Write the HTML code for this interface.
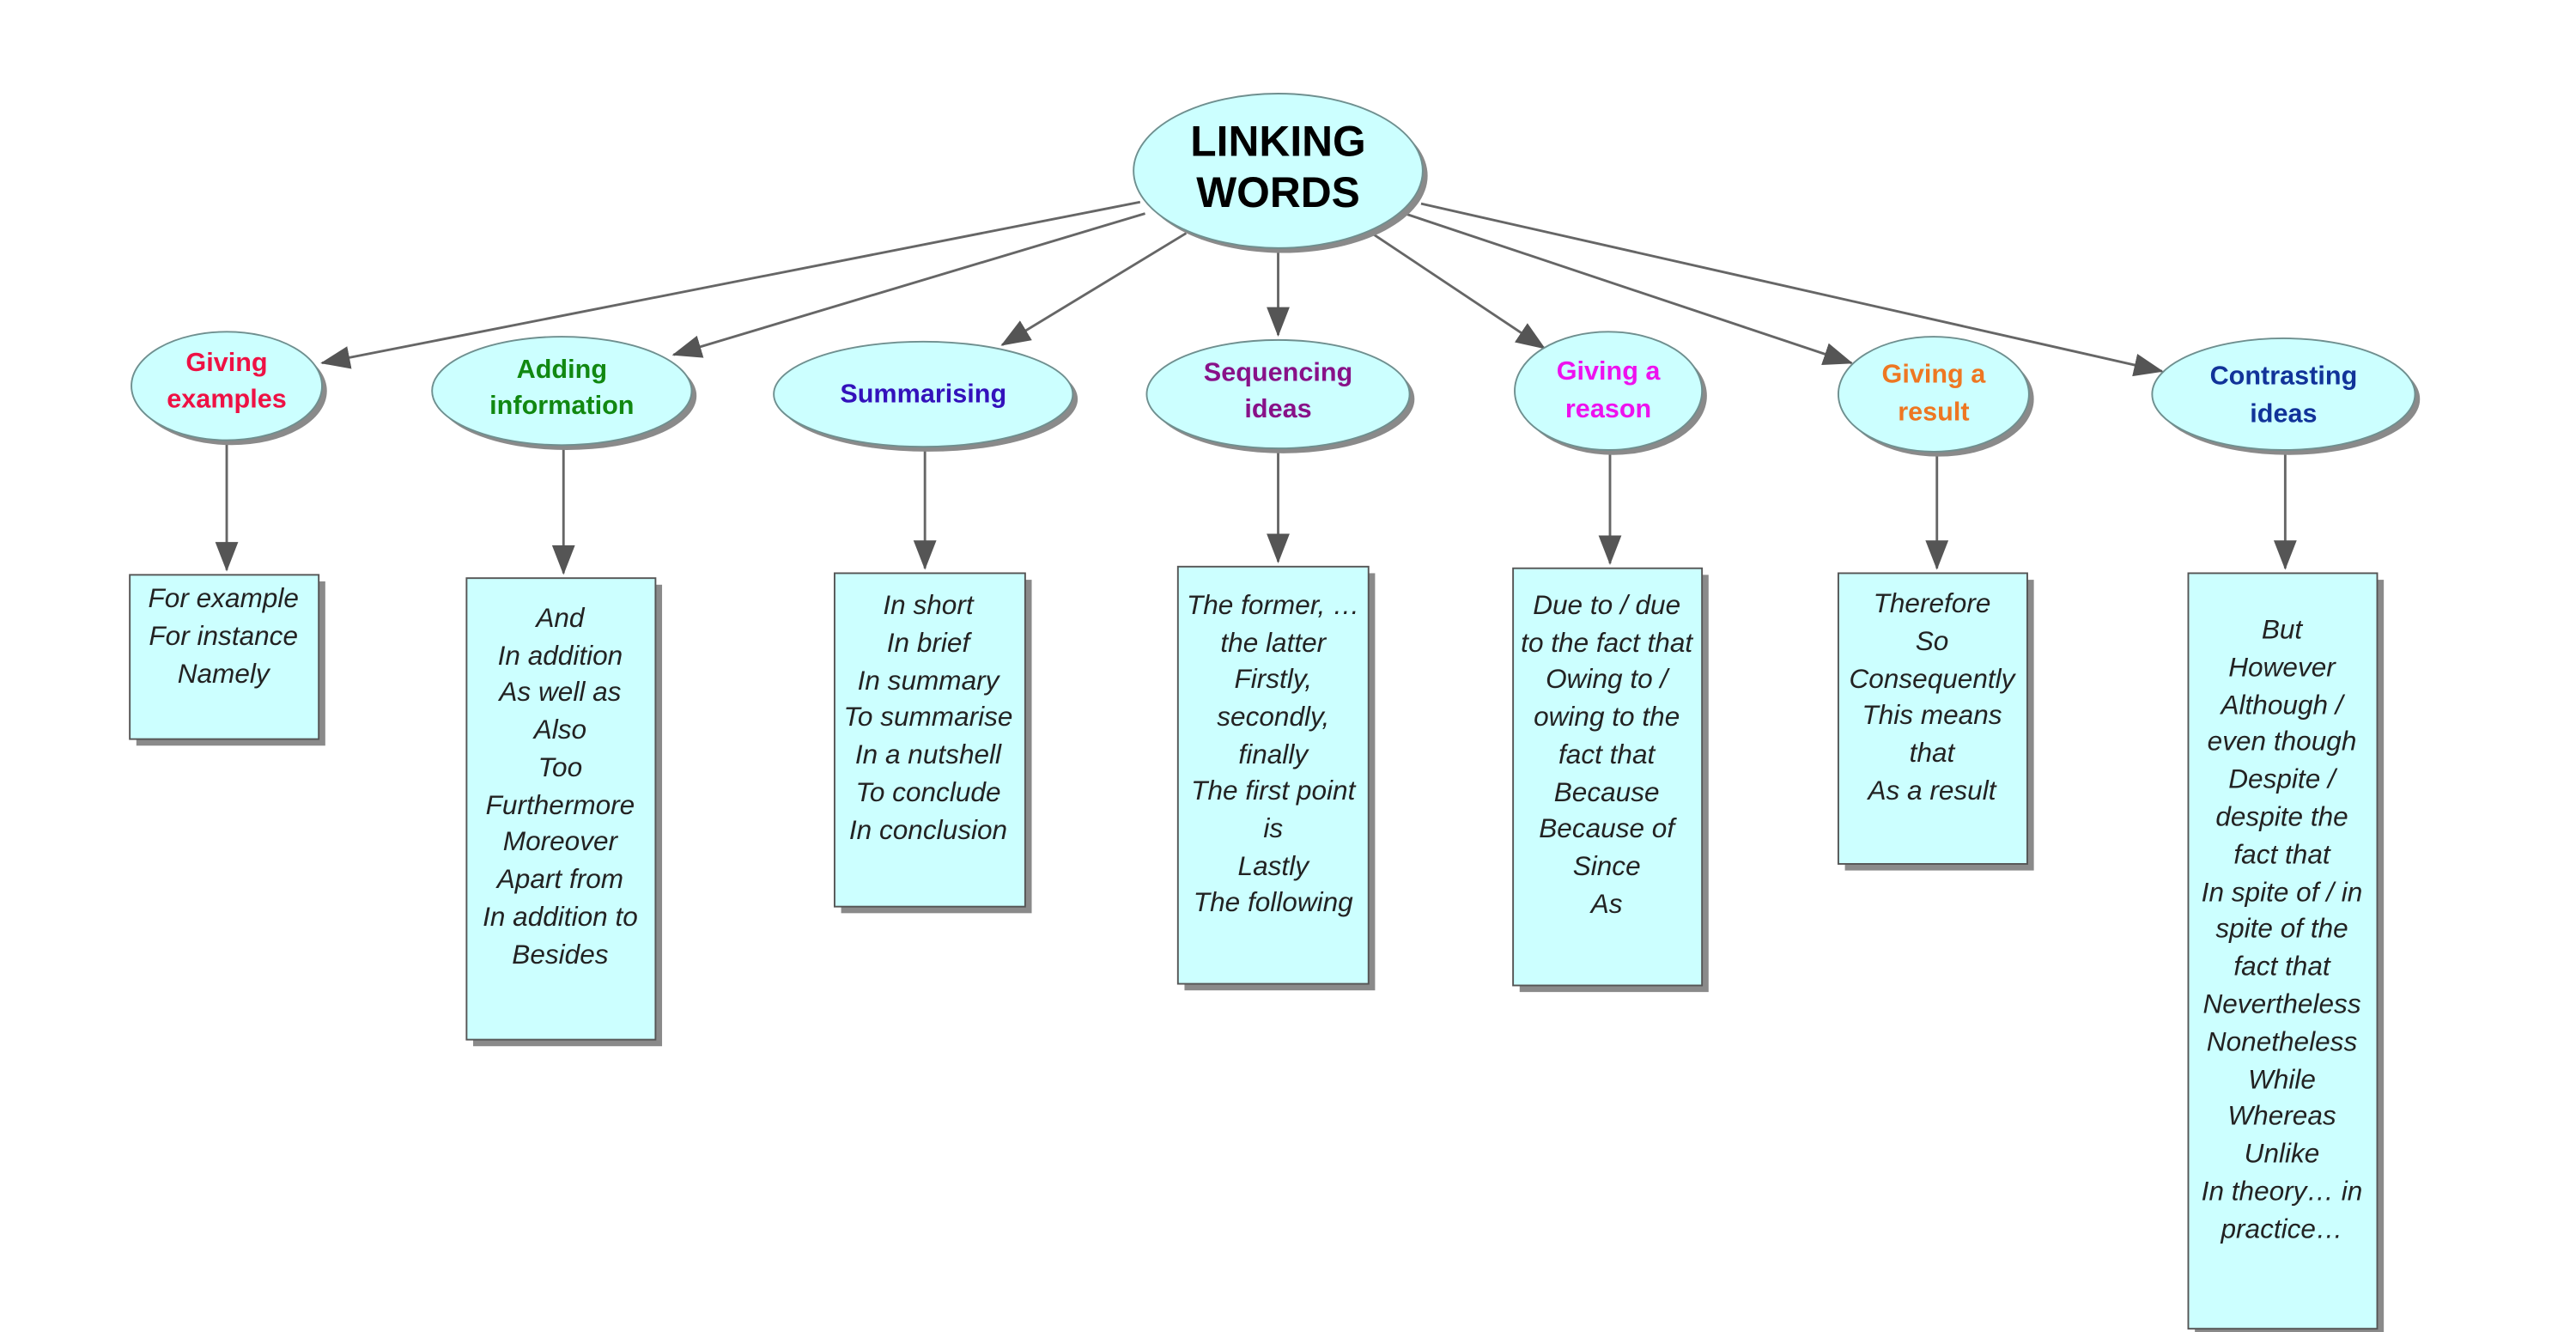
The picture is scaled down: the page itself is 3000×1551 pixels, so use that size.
<!DOCTYPE html>
<html><head><meta charset="utf-8"><style>
html,body{margin:0;padding:0;background:#fff;}
svg{display:block;}
text{font-family:"Liberation Sans",sans-serif;}
.b{font-style:italic;font-size:16.5px;fill:#222;text-anchor:middle;}
.l{font-weight:bold;font-size:16px;text-anchor:middle;}
</style></head><body>
<svg width="3000" height="1551" viewBox="0 0 1568 811" preserveAspectRatio="none" xmlns="http://www.w3.org/2000/svg">
<defs>
<marker id="a" markerWidth="10" markerHeight="10" refX="9" refY="5" orient="auto" markerUnits="userSpaceOnUse" viewBox="0 0 10 10">
<path d="M0,0 L10,5 L0,10 z" fill="#555"/></marker>
<marker id="a2" markerWidth="18" markerHeight="18" refX="17" refY="9" orient="auto" markerUnits="userSpaceOnUse" viewBox="0 0 18 18">
<path d="M0,2 L18,9 L0,16 z" fill="#555"/></marker>
</defs>
<g stroke="#666" stroke-width="1.5" fill="none" marker-end="url(#a2)">
<line x1="694" y1="123" x2="196" y2="221"/>
<line x1="697" y1="130" x2="410" y2="216"/>
<line x1="722" y1="142" x2="610" y2="210"/>
<line x1="778" y1="152" x2="778" y2="204"/>
<line x1="835" y1="142" x2="940" y2="212"/>
<line x1="855" y1="130" x2="1127" y2="221"/>
<line x1="865" y1="124" x2="1316" y2="226"/>
<line x1="138" y1="268" x2="138" y2="347"/>
<line x1="343" y1="271" x2="343" y2="349"/>
<line x1="563" y1="272" x2="563" y2="346"/>
<line x1="778" y1="275" x2="778" y2="342"/>
<line x1="980" y1="273" x2="980" y2="343"/>
<line x1="1179" y1="275" x2="1179" y2="346"/>
<line x1="1391" y1="275" x2="1391" y2="346"/>
</g>
<!-- ellipses -->
<g fill="#8a8a8a">
<ellipse cx="781" cy="107" rx="88" ry="47"/>
<ellipse cx="141" cy="238" rx="58" ry="33"/>
<ellipse cx="345" cy="241" rx="79" ry="33"/>
<ellipse cx="565" cy="243" rx="91" ry="32"/>
<ellipse cx="781" cy="243" rx="80" ry="33"/>
<ellipse cx="982" cy="241" rx="57" ry="36"/>
<ellipse cx="1180" cy="243" rx="58" ry="35"/>
<ellipse cx="1393" cy="243" rx="80" ry="34"/>
</g>
<g fill="#ccffff" stroke="#6f8f8f" stroke-width="1">
<ellipse cx="778" cy="104" rx="88" ry="47"/>
<ellipse cx="138" cy="235" rx="58" ry="33"/>
<ellipse cx="342" cy="238" rx="79" ry="33"/>
<ellipse cx="562" cy="240" rx="91" ry="32"/>
<ellipse cx="778" cy="240" rx="80" ry="33"/>
<ellipse cx="979" cy="238" rx="57" ry="36"/>
<ellipse cx="1177" cy="240" rx="58" ry="35"/>
<ellipse cx="1390" cy="240" rx="80" ry="34"/>
</g>
<text x="778" y="95" font-size="26" font-weight="bold" text-anchor="middle">LINKING</text>
<text x="778" y="126" font-size="26" font-weight="bold" text-anchor="middle">WORDS</text>
<text class="l" x="138" y="226" fill="#ee1144">Giving</text>
<text class="l" x="138" y="248" fill="#ee1144">examples</text>
<text class="l" x="342" y="230" fill="#118811">Adding</text>
<text class="l" x="342" y="252" fill="#118811">information</text>
<text class="l" x="562" y="245" fill="#3311bb">Summarising</text>
<text class="l" x="778" y="232" fill="#881188">Sequencing</text>
<text class="l" x="778" y="254" fill="#881188">ideas</text>
<text class="l" x="979" y="231" fill="#ee11ee">Giving a</text>
<text class="l" x="979" y="254" fill="#ee11ee">reason</text>
<text class="l" x="1177" y="233" fill="#ee7722">Giving a</text>
<text class="l" x="1177" y="256" fill="#ee7722">result</text>
<text class="l" x="1390" y="234" fill="#113399">Contrasting</text>
<text class="l" x="1390" y="257" fill="#113399">ideas</text>
<!-- boxes -->
<g fill="#8a8a8a">
<rect x="83" y="354" width="115" height="100"/>
<rect x="288" y="356" width="115" height="281"/>
<rect x="512" y="353" width="116" height="203"/>
<rect x="721" y="349" width="116" height="254"/>
<rect x="925" y="350" width="115" height="254"/>
<rect x="1123" y="353" width="115" height="177"/>
<rect x="1336" y="353" width="115" height="460"/>
</g>
<g fill="#ccffff" stroke="#555" stroke-width="1">
<rect x="79" y="350" width="115" height="100"/>
<rect x="284" y="352" width="115" height="281"/>
<rect x="508" y="349" width="116" height="203"/>
<rect x="717" y="345" width="116" height="254"/>
<rect x="921" y="346" width="115" height="254"/>
<rect x="1119" y="349" width="115" height="177"/>
<rect x="1332" y="349" width="115" height="460"/>
</g>
<g class="b" dominant-baseline="central">
<text x="136" y="364" class="b">For example</text>
<text x="136" y="387" class="b">For instance</text>
<text x="136" y="410" class="b">Namely</text>

<text x="341" y="376" class="b">And</text>
<text x="341" y="399" class="b">In addition</text>
<text x="341" y="421" class="b">As well as</text>
<text x="341" y="444" class="b">Also</text>
<text x="341" y="467" class="b">Too</text>
<text x="341" y="490" class="b">Furthermore</text>
<text x="341" y="512" class="b">Moreover</text>
<text x="341" y="535" class="b">Apart from</text>
<text x="341" y="558" class="b">In addition to</text>
<text x="341" y="581" class="b">Besides</text>

<text x="565" y="368" class="b">In short</text>
<text x="565" y="391" class="b">In brief</text>
<text x="565" y="414" class="b">In summary</text>
<text x="565" y="436" class="b">To summarise</text>
<text x="565" y="459" class="b">In a nutshell</text>
<text x="565" y="482" class="b">To conclude</text>
<text x="565" y="505" class="b">In conclusion</text>

<text x="775" y="368" class="b">The former, …</text>
<text x="775" y="391" class="b">the latter</text>
<text x="775" y="413" class="b">Firstly,</text>
<text x="775" y="436" class="b">secondly,</text>
<text x="775" y="459" class="b">finally</text>
<text x="775" y="481" class="b">The first point</text>
<text x="775" y="504" class="b">is</text>
<text x="775" y="527" class="b">Lastly</text>
<text x="775" y="549" class="b">The following</text>

<text x="978" y="368" class="b">Due to / due</text>
<text x="978" y="391" class="b">to the fact that</text>
<text x="978" y="413" class="b">Owing to /</text>
<text x="978" y="436" class="b">owing to the</text>
<text x="978" y="459" class="b">fact that</text>
<text x="978" y="482" class="b">Because</text>
<text x="978" y="504" class="b">Because of</text>
<text x="978" y="527" class="b">Since</text>
<text x="978" y="550" class="b">As</text>

<text x="1176" y="367" class="b">Therefore</text>
<text x="1176" y="390" class="b">So</text>
<text x="1176" y="413" class="b">Consequently</text>
<text x="1176" y="435" class="b">This means</text>
<text x="1176" y="458" class="b">that</text>
<text x="1176" y="481" class="b">As a result</text>

<text x="1389" y="383" class="b">But</text>
<text x="1389" y="406" class="b">However</text>
<text x="1389" y="429" class="b">Although /</text>
<text x="1389" y="451" class="b">even though</text>
<text x="1389" y="474" class="b">Despite /</text>
<text x="1389" y="497" class="b">despite the</text>
<text x="1389" y="520" class="b">fact that</text>
<text x="1389" y="543" class="b">In spite of / in</text>
<text x="1389" y="565" class="b">spite of the</text>
<text x="1389" y="588" class="b">fact that</text>
<text x="1389" y="611" class="b">Nevertheless</text>
<text x="1389" y="634" class="b">Nonetheless</text>
<text x="1389" y="657" class="b">While</text>
<text x="1389" y="679" class="b">Whereas</text>
<text x="1389" y="702" class="b">Unlike</text>
<text x="1389" y="725" class="b">In theory… in</text>
<text x="1389" y="748" class="b">practice…</text>
</g>
</svg>
</body></html>
